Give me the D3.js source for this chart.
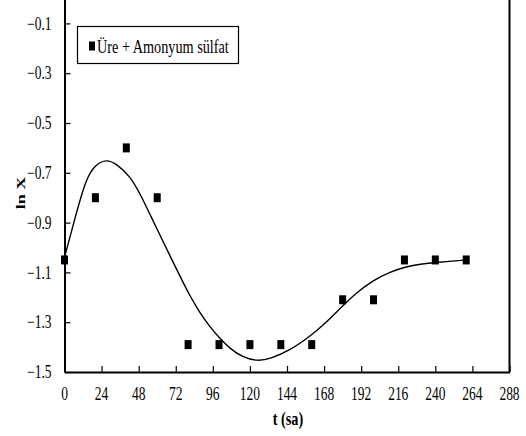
<!DOCTYPE html>
<html>
<head>
<meta charset="utf-8">
<script src="https://cdn.jsdelivr.net/npm/d3@7"></script>
<style>
  html, body { margin: 0; padding: 0; background: #fff; }
  svg { display: block; }
</style>
</head>
<body>
<svg id="chart" width="526" height="436"></svg>
<script>
// Measured biomass (ln X) over time t (hours)
const timePoints = [0, 20, 40, 60, 80, 100, 120, 140, 160, 180, 200, 220, 240, 260];
const lnX        = [-1.05, -0.80, -0.60, -0.80, -1.39, -1.39, -1.39, -1.39, -1.39, -1.21, -1.21, -1.05, -1.05, -1.05];

// Fitted trend line through the measurements
const fitTime = [0, 6, 14, 20, 27, 34, 42.6, 49, 55.4, 61.9, 68.4, 74.8, 81.3, 87.7, 94.2, 100.6, 107.1, 115, 125, 133, 146, 158.9, 167.5, 178.3, 189.1, 199.9, 210.7, 221.5, 230.1, 241, 260];
const fitLnX  = [-1.04, -0.90, -0.72, -0.668, -0.645, -0.665, -0.715, -0.785, -0.868, -0.952, -1.035, -1.116, -1.196, -1.263, -1.319, -1.366, -1.406, -1.44, -1.457, -1.447, -1.413, -1.356, -1.312, -1.245, -1.18, -1.131, -1.098, -1.076, -1.067, -1.06, -1.05];

const xTicks = [0, 24, 48, 72, 96, 120, 144, 168, 192, 216, 240, 264, 288];
const yTicks = [-1.5, -1.3, -1.1, -0.9, -0.7, -0.5, -0.3, -0.1];
const seriesName = "Üre + Amonyum sülfat";
const xTitle = "t (sa)";
const yTitle = "ln X";

const FONT = "Liberation Serif";
const svg = d3.select("#chart");
const sx = 0.75; // horizontal squeeze applied to the text glyphs

const x = d3.scaleLinear().domain([0, 288]).range([64.5, 509.5]);
const y = d3.scaleLinear().domain([-1.5, 0.1]).range([372, -26.4]);

const g = svg.append("g");

// plot frame: right border
g.append("line")
  .attr("x1", x(288)).attr("x2", x(288))
  .attr("y1", y(0.1)).attr("y2", y(-1.5))
  .attr("stroke", "#000").attr("stroke-width", 2);

// x axis with inward ticks
const xAxis = g.append("g")
  .attr("transform", `translate(0,${y(-1.5)})`)
  .call(d3.axisBottom(x).tickValues(xTicks).tickSizeInner(-6).tickSizeOuter(0).tickFormat(""));
xAxis.select(".domain").attr("stroke-width", 2);
xAxis.selectAll(".tick line").attr("stroke-width", 1.2);

// y axis with inward ticks
const yAxis = g.append("g")
  .attr("transform", `translate(${x(0)},0)`)
  .call(d3.axisLeft(y).tickValues(yTicks).tickSizeInner(-6).tickSizeOuter(0).tickFormat(""));
yAxis.select(".domain").attr("stroke-width", 2);
yAxis.selectAll(".tick line").attr("stroke-width", 1.2);

// tick labels
g.selectAll("text.xt").data(xTicks).join("text")
  .attr("class", "xt")
  .attr("font-family", FONT)
  .attr("text-anchor", "middle")
  .attr("font-size", 18)
  .attr("fill", "#000")
  .attr("transform", d => `translate(${x(d)},400) scale(${sx},1)`)
  .text(d => d);

g.selectAll("text.yt").data(yTicks).join("text")
  .attr("class", "yt")
  .attr("font-family", FONT)
  .attr("text-anchor", "end")
  .attr("font-size", 18)
  .attr("fill", "#000")
  .attr("dy", "0.34em")
  .attr("transform", d => `translate(51.5,${y(d)}) scale(${sx},1)`)
  .text(d => d3.format(".1f")(d));

// axis titles
g.append("text")
  .attr("font-family", FONT)
  .attr("text-anchor", "middle")
  .attr("font-size", 19)
  .attr("font-weight", "bold")
  .attr("fill", "#000")
  .attr("transform", `translate(288,425) scale(${sx},1)`)
  .text(xTitle);

g.append("text")
  .attr("font-family", FONT)
  .attr("text-anchor", "middle")
  .attr("font-size", 18)
  .attr("font-weight", "bold")
  .attr("fill", "#000")
  .attr("transform", `translate(25,193) scale(${sx},1) rotate(-90)`)
  .text(yTitle);

// fitted curve
const fitData = fitTime.map((t, i) => [t, fitLnX[i]]);
g.append("path")
  .datum(fitData)
  .attr("fill", "none")
  .attr("stroke", "#000")
  .attr("stroke-width", 1.4)
  .attr("d", d3.line().x(d => x(d[0])).y(d => y(d[1])).curve(d3.curveBasis));

// measurement markers
const mw = 7, mh = 9;
g.selectAll("rect.pt").data(timePoints.map((t, i) => [t, lnX[i]])).join("rect")
  .attr("class", "pt")
  .attr("x", d => x(d[0]) - mw / 2)
  .attr("y", d => y(d[1]) - mh / 2)
  .attr("width", mw).attr("height", mh)
  .attr("fill", "#000");

// legend
const leg = g.append("g");
leg.append("rect")
  .attr("x", 77.5).attr("y", 26.5).attr("width", 161).attr("height", 37)
  .attr("fill", "#fff").attr("stroke", "#000").attr("stroke-width", 1.2);
leg.append("rect")
  .attr("x", 89).attr("y", 41.5).attr("width", 6).attr("height", 9)
  .attr("fill", "#000");
leg.append("text")
  .attr("font-family", FONT)
  .attr("font-size", 19)
  .attr("fill", "#000")
  .attr("transform", `translate(97,53) scale(${sx},1)`)
  .text(seriesName);
</script>
</body>
</html>
